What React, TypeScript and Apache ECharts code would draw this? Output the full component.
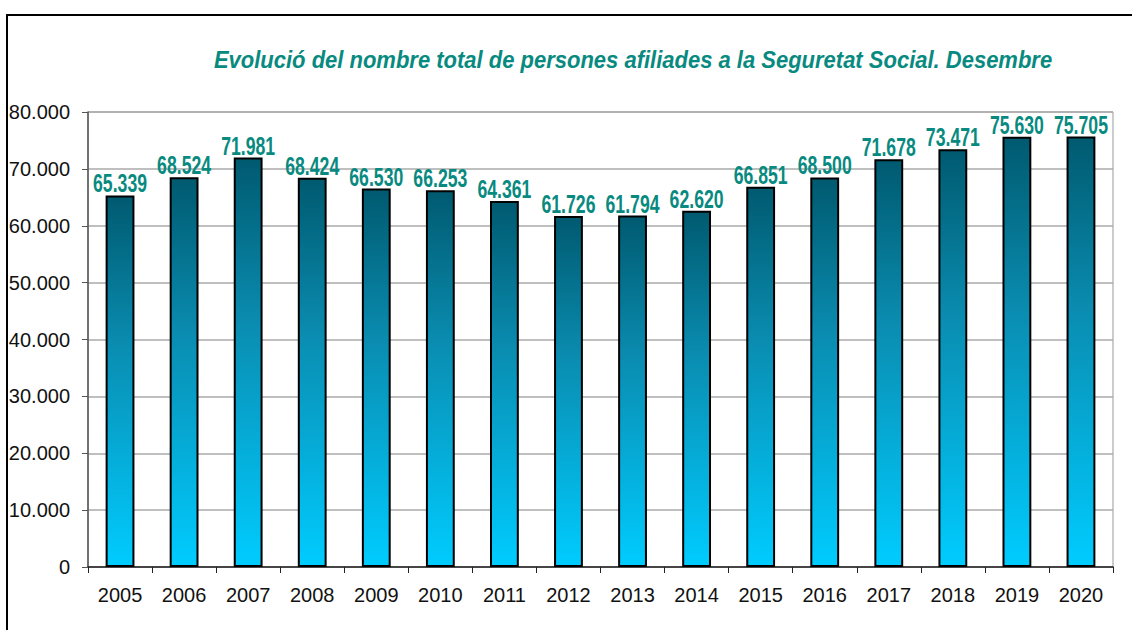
import React, { useEffect, useRef } from "react";
import * as echarts from "echarts";

const TITLE = "Evolució del nombre total de persones afiliades a la Seguretat Social. Desembre";
const years = ["2005", "2006", "2007", "2008", "2009", "2010", "2011", "2012", "2013", "2014", "2015", "2016", "2017", "2018", "2019", "2020"];
const affiliates = [65339, 68524, 71981, 68424, 66530, 66253, 64361, 61726, 61794, 62620, 66851, 68500, 71678, 73471, 75630, 75705];
const yTicks = { min: 0, max: 80000, interval: 10000 };

const fmt = (v: number) => {
  const s = Math.round(v).toString();
  return s.replace(/\B(?=(\d{3})+(?!\d))/g, ".");
};

export default function App() {
  const ref = useRef<HTMLDivElement>(null);
  useEffect(() => {
    document.body.style.margin = "0";
    const chart = echarts.init(ref.current!, null, { renderer: "svg" });
    chart.setOption({
      animation: false,
      backgroundColor: "#ffffff",
      graphic: [
        {
          type: "rect",
          shape: { x: 7, y: 15, width: 1140, height: 640 },
          style: { fill: "none", stroke: "#000", lineWidth: 2 },
          silent: true,
        },
        {
          type: "text",
          x: 633,
          y: 60,
          scaleY: 1.12,
          silent: true,
          style: {
            text: TITLE,
            align: "center",
            verticalAlign: "middle",
            fontFamily: "Liberation Sans, Arial, sans-serif",
            fontStyle: "italic",
            fontWeight: "bold",
            fontSize: 22,
            fill: "#088A80",
          },
        },
      ],
      grid: {
        left: 88,
        top: 112,
        right: 19,
        bottom: 63,
        show: true,
        borderColor: "#999",
        borderWidth: 1,
        backgroundColor: "transparent",
      },
      xAxis: {
        type: "category",
        data: years,
        axisLine: { show: true, lineStyle: { color: "#222", width: 1.5 } },
        axisTick: { show: true, alignWithLabel: false, length: 6, lineStyle: { color: "#222" } },
        axisLabel: {
          margin: 18,
          fontFamily: "Liberation Sans, Arial, sans-serif",
          fontSize: 20,
          color: "#111",
        },
      },
      yAxis: {
        type: "value",
        min: yTicks.min,
        max: yTicks.max,
        interval: yTicks.interval,
        axisLine: { show: true, lineStyle: { color: "#555", width: 1.5 } },
        axisTick: { show: true, length: 6, lineStyle: { color: "#555" } },
        splitLine: { show: true, lineStyle: { color: "#aaa", width: 1.5 } },
        axisLabel: {
          margin: 18,
          fontFamily: "Liberation Sans, Arial, sans-serif",
          fontSize: 20,
          color: "#111",
          formatter: (v: number) => fmt(v),
        },
      },
      series: [
        {
          type: "bar",
          data: affiliates,
          barWidth: "45%",
          itemStyle: {
            borderColor: "#000",
            borderWidth: 2,
            color: new echarts.graphic.LinearGradient(0, 0, 0, 1, [
              { offset: 0, color: "#005A70" },
              { offset: 0.4, color: "#0A8CB0" },
              { offset: 1, color: "#00CCFF" },
            ]),
          },
        },
        {
          type: "custom",
          z: 5,
          data: affiliates.map((v, i) => [i, v]),
          renderItem: (params: any, api: any) => {
            const pt = api.coord([api.value(0), api.value(1)]);
            return {
              type: "text",
              x: pt[0],
              y: pt[1] + 1,
              scaleX: 0.84,
              scaleY: 1.2,
              style: {
                text: fmt(api.value(1)),
                align: "center",
                verticalAlign: "bottom",
                fontFamily: "Liberation Sans, Arial, sans-serif",
                fontWeight: "bold",
                fontSize: 21,
                fill: "#088A80",
              },
            };
          },
        },
      ],
    });
    return () => chart.dispose();
  }, []);
  return <div ref={ref} style={{ position: "fixed", left: 0, top: 0, width: 1132, height: 630 }} />;
}
